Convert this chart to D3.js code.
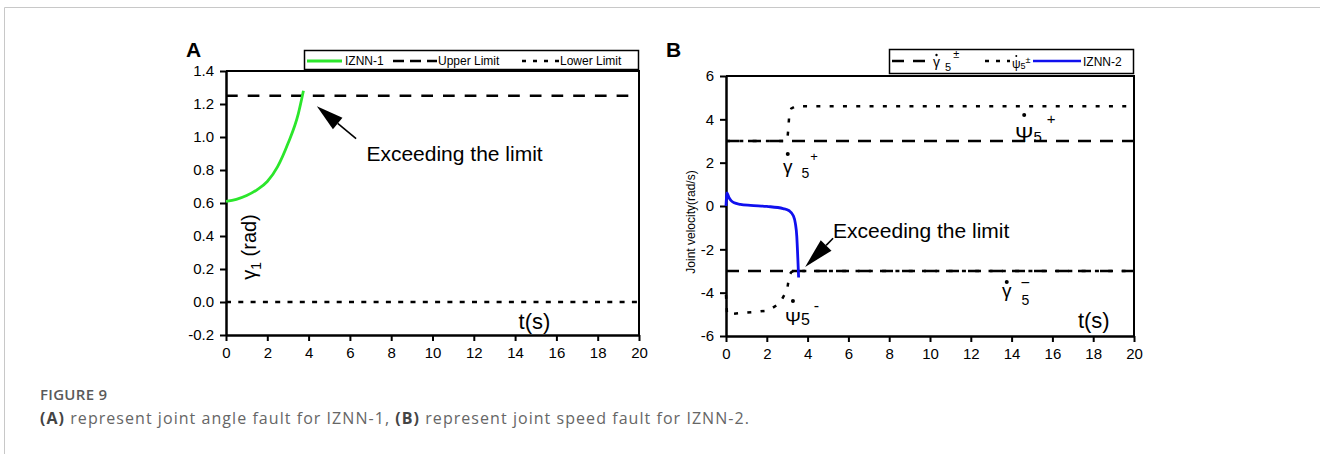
<!DOCTYPE html>
<html>
<head>
<meta charset="utf-8">
<script src="https://cdn.jsdelivr.net/npm/d3@7"></script>
<style>
  body { margin: 0; background: #fff; }
  svg { display: block; }
</style>
</head>
<body>
<div id="chart"></div>
<script>
// ---- data ----
// panel A: joint angle of IZNN-1
var timeA = [0, 0.5, 1, 1.5, 2, 2.5, 3, 3.5, 3.75];
var angleA = [0.61, 0.622, 0.645, 0.68, 0.73, 0.82, 0.96, 1.14, 1.28];
var upperLimitA = 1.25;
var lowerLimitA = 0.0;
var yTicksA = [-0.2, 0, 0.2, 0.4, 0.6, 0.8, 1.0, 1.2, 1.4];

// panel B: joint velocity of IZNN-2
var timeB = [0, 0.05, 0.15, 0.25, 0.4, 0.7, 1.2, 2, 2.8, 3.1, 3.3, 3.4, 3.47, 3.52, 3.56];
var velB = [0, 0.6, 0.38, 0.25, 0.15, 0.08, 0.03, -0.02, -0.12, -0.22, -0.45, -0.8, -1.4, -2.4, -3.3];
var gammaUpper = 3;
var gammaLower = -3;
var psiUpT = [0, 3.0, 3.05, 3.1, 3.2, 3.4, 20];
var psiUpV = [3, 3, 3.5, 4.2, 4.5, 4.6, 4.6];
var psiLowT = [0, 0.05, 0.6, 1.3, 2.1, 2.65, 3.0, 3.1, 3.2, 3.3, 20];
var psiLowV = [-4.1, -5.0, -4.95, -4.9, -4.82, -4.47, -3.86, -3.2, -3.05, -3.0, -3.0];
var yTicksB = [-6, -4, -2, 0, 2, 4, 6];

var xTicks = [0, 2, 4, 6, 8, 10, 12, 14, 16, 18, 20];

var W = 1326, H = 454;
var font = '"Liberation Sans", Arial, sans-serif';

var svg = d3.select("#chart").append("svg")
    .attr("width", W)
    .attr("height", H);

svg.append("rect").attr("width", W).attr("height", H).attr("fill", "#fff");

// light page frame
svg.append("path")
    .attr("d", "M4.5," + H + "V7.5H1320")
    .attr("fill", "none")
    .attr("stroke", "#c8c8c8")
    .attr("stroke-width", 1);

function toPoints(ts, vs) {
    return ts.map(function (t, i) { return [t, vs[i]]; });
}

function makePanel(left, right, top, bottom, yDomain, yTicks, yFormat) {
    var x = d3.scaleLinear().domain([0, 20]).range([left, right]);
    var y = d3.scaleLinear().domain(yDomain).range([bottom, top]);
    var g = svg.append("g");

    // frame: top and right sides
    g.append("path")
        .attr("d", "M" + left + "," + top + "H" + right + "V" + bottom)
        .attr("fill", "none").attr("stroke", "#000").attr("stroke-width", 2);

    var xAxis = g.append("g")
        .attr("transform", "translate(0," + bottom + ")")
        .call(d3.axisBottom(x).tickValues(xTicks).tickSize(6).tickSizeOuter(0).tickPadding(6));
    var yAxis = g.append("g")
        .attr("transform", "translate(" + left + ",0)")
        .call(d3.axisLeft(y).tickValues(yTicks)
            .tickFormat(function (d) { return yFormat(d).replace("−", "-"); })
            .tickSize(6).tickSizeOuter(0).tickPadding(6));
    [xAxis, yAxis].forEach(function (a) {
        a.attr("font-family", font).attr("font-size", 15);
        a.select(".domain").attr("stroke", "#000").attr("stroke-width", 2.5);
        a.selectAll(".tick line").attr("stroke", "#000").attr("stroke-width", 2);
        a.selectAll(".tick text").attr("fill", "#000");
    });
    return { g: g, x: x, y: y };
}

function drawLine(p, pts, color, width, dash, curve) {
    var line = d3.line()
        .x(function (d) { return p.x(d[0]); })
        .y(function (d) { return p.y(d[1]); })
        .curve(curve || d3.curveLinear);
    p.g.append("path")
        .datum(pts)
        .attr("d", line)
        .attr("fill", "none")
        .attr("stroke", color)
        .attr("stroke-width", width)
        .attr("stroke-dasharray", dash || null);
}

function drawArrow(p, from, to, headLen, headW) {
    var x1 = p.x(from[0]), y1 = p.y(from[1]), x2 = p.x(to[0]), y2 = p.y(to[1]);
    var ang = Math.atan2(y2 - y1, x2 - x1);
    var bx = x2 - headLen * Math.cos(ang), by = y2 - headLen * Math.sin(ang);
    var nx = -Math.sin(ang) * headW / 2, ny = Math.cos(ang) * headW / 2;
    p.g.append("line")
        .attr("x1", x1).attr("y1", y1).attr("x2", bx).attr("y2", by)
        .attr("stroke", "#000").attr("stroke-width", 1.6);
    p.g.append("path")
        .attr("d", "M" + x2 + "," + y2 + "L" + (bx + nx) + "," + (by + ny) + "L" + (bx - nx) + "," + (by - ny) + "Z")
        .attr("fill", "#000");
}

function text(g, x, y, str, size, opts) {
    opts = opts || {};
    return g.append("text")
        .attr("x", x).attr("y", y)
        .attr("font-family", font)
        .attr("font-size", size)
        .attr("font-weight", opts.bold ? "bold" : null)
        .attr("text-anchor", opts.anchor || "start")
        .attr("fill", "#000")
        .text(str);
}

function dot(g, x, y, r) {
    g.append("circle").attr("cx", x).attr("cy", y).attr("r", r).attr("fill", "#000");
}

// dotted symbol with subscript 5 and a superscript sign
function symLabel(g, x, y, s) {
    var b = text(g, x, y, s.base, s.size);
    var w = b.node().getComputedTextLength();
    dot(g, x + w * 0.5, y + s.dotDy, s.dotR || 2);
    var sub = text(g, x + w + s.subDx, y + s.subDy, "5", s.subSize);
    var sw = sub.node().getComputedTextLength();
    var sx = s.supAbove ? x + w + s.subDx - 1 : x + w + s.subDx + sw + s.supDx;
    text(g, sx, y + s.supDy, s.sup, s.supSize);
}

// ================= Panel A =================
var A = makePanel(226, 639, 71, 335, [-0.2, 1.4], yTicksA, d3.format(".1f"));

drawLine(A, [[0, upperLimitA], [20, upperLimitA]], "#000", 2.5, "11.7,10");
drawLine(A, [[0, lowerLimitA], [20, lowerLimitA]], "#000", 2.5, "5,7.3");
drawLine(A, toPoints(timeA, angleA), "#2be62b", 2.8, null, d3.curveMonotoneX);

drawArrow(A, [6.3, 0.99], [4.4, 1.186], 27, 15);
text(A.g, A.x(6.8), A.y(0.855), "Exceeding the limit", 21);
text(A.g, A.x(14.17), A.y(-0.165), "t(s)", 22);

// y label inside the plot
var ylabA = A.g.append("text")
    .attr("transform", "translate(256,247) rotate(-90)")
    .attr("text-anchor", "middle")
    .attr("font-family", font)
    .attr("font-size", 20);
ylabA.append("tspan").text("γ");
ylabA.append("tspan").attr("font-size", 14).attr("dy", 5).text("1");
ylabA.append("tspan").attr("dy", -5).text(" (rad)");

text(svg, 186, 57, "A", 21, { bold: true });

// legend A
var legA = svg.append("g");
legA.append("rect").attr("x", 304.5).attr("y", 50.5).attr("width", 334).attr("height", 19)
    .attr("fill", "#fff").attr("stroke", "#000").attr("stroke-width", 1.5);
legA.append("line").attr("x1", 307).attr("x2", 342).attr("y1", 61).attr("y2", 61)
    .attr("stroke", "#2be62b").attr("stroke-width", 2.8);
text(legA, 345, 65, "IZNN-1", 12);
legA.append("line").attr("x1", 393).attr("x2", 437).attr("y1", 61).attr("y2", 61)
    .attr("stroke", "#000").attr("stroke-width", 2.5).attr("stroke-dasharray", "11,6");
text(legA, 438, 65, "Upper Limit", 12);
legA.append("line").attr("x1", 522).attr("x2", 560).attr("y1", 61).attr("y2", 61)
    .attr("stroke", "#000").attr("stroke-width", 2.5).attr("stroke-dasharray", "4,7");
text(legA, 560, 65, "Lower Limit", 12);

// ================= Panel B =================
var B = makePanel(726, 1134, 76, 336, [-6, 6], yTicksB, d3.format("d"));

drawLine(B, [[0, gammaUpper], [20, gammaUpper]], "#000", 2.5, "13,9");
drawLine(B, [[0, gammaLower], [20, gammaLower]], "#000", 2.5, "13,9");
drawLine(B, toPoints(psiUpT, psiUpV), "#000", 2.5, "4,9.3");
drawLine(B, toPoints(psiLowT, psiLowV), "#000", 2.5, "4,9.3");
drawLine(B, toPoints(timeB, velB), "#1010ee", 2.8, null, d3.curveMonotoneX);

drawArrow(B, [5.25, -1.49], [3.88, -2.81], 30, 15);
text(B.g, B.x(5.25), B.y(-1.49), "Exceeding the limit", 21);
text(B.g, B.x(17.25), B.y(-5.64), "t(s)", 22);

B.g.append("text")
    .attr("transform", "translate(695,222) rotate(-90)")
    .attr("text-anchor", "middle")
    .attr("font-family", font)
    .attr("font-size", 12)
    .text("Joint velocity(rad/s)");

// symbol annotations
symLabel(B.g, 1015, 142, { base: "Ψ", size: 22, dotDy: -27, subDx: 0, subDy: 0, subSize: 15,
    sup: "+", supSize: 15, supDx: 5, supDy: -18 });
symLabel(B.g, 783, 173, { base: "γ", size: 19, dotDy: -19, subDx: 9, subDy: 5, subSize: 14,
    sup: "+", supSize: 13, supDx: 1, supDy: -12 });
symLabel(B.g, 785, 325, { base: "Ψ", size: 19, dotDy: -24, subDx: 0, subDy: 0, subSize: 16,
    sup: "-", supSize: 16, supDx: 4, supDy: -14 });
symLabel(B.g, 1002, 297, { base: "γ", size: 19, dotDy: -15, subDx: 10, subDy: 8, subSize: 14,
    sup: "−", supSize: 16, supAbove: true, supDy: -9 });

text(svg, 666, 57, "B", 21, { bold: true });

// legend B
var legB = svg.append("g");
legB.append("rect").attr("x", 889.5).attr("y", 49.5).attr("width", 244).attr("height", 24)
    .attr("fill", "#fff").attr("stroke", "#000").attr("stroke-width", 1.5);
legB.append("line").attr("x1", 892).attr("x2", 926).attr("y1", 61).attr("y2", 61)
    .attr("stroke", "#000").attr("stroke-width", 2.5).attr("stroke-dasharray", "12,9");
symLabel(legB, 933, 67, { base: "γ", size: 14, dotDy: -12, dotR: 1.2, subDx: 5, subDy: 4, subSize: 11,
    sup: "±", supSize: 11, supDx: 2, supDy: -9 });
legB.append("line").attr("x1", 985).attr("x2", 1010).attr("y1", 61).attr("y2", 61)
    .attr("stroke", "#000").attr("stroke-width", 2.5).attr("stroke-dasharray", "4,7");
symLabel(legB, 1012, 68, { base: "ψ", size: 12, dotDy: -12, dotR: 1, subDx: 0, subDy: 1, subSize: 9,
    sup: "±", supSize: 9, supDx: 0, supDy: -5 });
legB.append("line").attr("x1", 1033).attr("x2", 1081).attr("y1", 61).attr("y2", 61)
    .attr("stroke", "#1010ee").attr("stroke-width", 2.5);
text(legB, 1083, 66, "IZNN-2", 12);

// ================= caption =================
var capFont = '"Open Sans", "Noto Sans", sans-serif';
svg.append("text")
    .attr("x", 40).attr("y", 400)
    .attr("font-family", capFont).attr("font-size", 15)
    .attr("letter-spacing", 0.3)
    .attr("font-weight", 600)
    .attr("fill", "#5a5a5a")
    .text("FIGURE 9");
var cap = svg.append("text")
    .attr("x", 40).attr("y", 424)
    .attr("font-family", capFont).attr("font-size", 16)
    .attr("letter-spacing", 1.05)
    .attr("fill", "#666");
cap.append("tspan").attr("font-weight", "bold").attr("fill", "#444").text("(A)");
cap.append("tspan").text(" represent joint angle fault for IZNN-1, ");
cap.append("tspan").attr("font-weight", "bold").attr("fill", "#444").text("(B)");
cap.append("tspan").text(" represent joint speed fault for IZNN-2.");
</script>
</body>
</html>
